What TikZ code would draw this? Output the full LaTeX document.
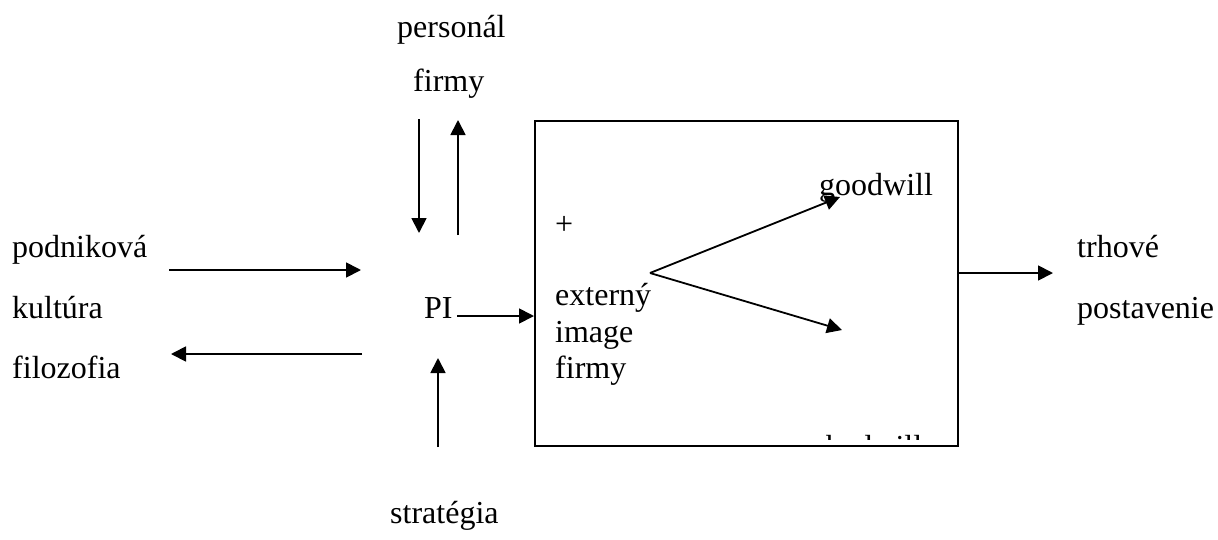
\documentclass[tikz,border=0pt]{standalone}
\usepackage{fontspec}
\setmainfont{Liberation Serif}
\usetikzlibrary{arrows.meta}
\begin{document}
\begin{tikzpicture}[x=1pt,y=-1pt,
  lbl/.style={anchor=base west,inner sep=0pt,font=\fontsize{32}{38}\selectfont},
  arr/.style={line width=1.8pt,-{Triangle[length=15pt,width=15pt]}},
  frame/.style={draw,line width=2pt,inner sep=0pt,anchor=north west,
                minimum width=423pt,minimum height=325pt}]
\useasboundingbox (0,0) rectangle (1218,539);

% labels around the centre
\node[lbl] (pers)  at (397,37)  {personál};
\node[lbl] (firm1) at (413,91)  {firmy};
\node[lbl] (podn)  at (12,257)  {podniková};
\node[lbl] (kult)  at (12,318)  {kultúra};
\node[lbl] (filo)  at (12,378)  {filozofia};
\node[lbl] (pi)    at (424,318) {PI};
\node[lbl] (strat) at (390,523) {stratégia};
\node[lbl] (trh)   at (1077,257) {trhové};
\node[lbl] (post)  at (1077,318) {postavenie};

% the box with its contents
\node[frame] (box) at (534,120) {};
\node[lbl] (plus) at (555,234) {+};
\node[lbl] (ext)  at (555,305) {externý};
\node[lbl] (img)  at (555,342) {image};
\node[lbl] (firm2) at (555,378) {firmy};
\node[lbl] (gw)   at (819,195) {goodwill};
\begin{scope}
  \clip (800,434) rectangle (950,439);
  \node[lbl] (bw) at (826,457) {badwill};
\end{scope}

% connector end points
\coordinate (dnA) at (419,119);  \coordinate (dnB) at (419,233);
\coordinate (upA) at (458,235);  \coordinate (upB) at (458,120);
\coordinate (rA)  at (169,270);  \coordinate (rB)  at (361,270);
\coordinate (lA)  at (362,354);  \coordinate (lB)  at (171,354);
\coordinate (piA) at (457,316);  \coordinate (piB) at (534,316);
\coordinate (stA) at (438,447);  \coordinate (stB) at (438,358);
\coordinate (brA) at (650,273);
\coordinate (brU) at (840,197);  \coordinate (brD) at (842,330);
\coordinate (outA) at (957,273); \coordinate (outB) at (1053,273);

\draw[arr] (dnA) -- (dnB);
\draw[arr] (upA) -- (upB);
\draw[arr] (rA) -- (rB);
\draw[arr] (lA) -- (lB);
\draw[arr] (piA) -- (piB);
\draw[arr] (stA) -- (stB);
\draw[arr] (brA) -- (brU);
\draw[arr] (brA) -- (brD);
\draw[arr] (outA) -- (outB);
\end{tikzpicture}
\end{document}
